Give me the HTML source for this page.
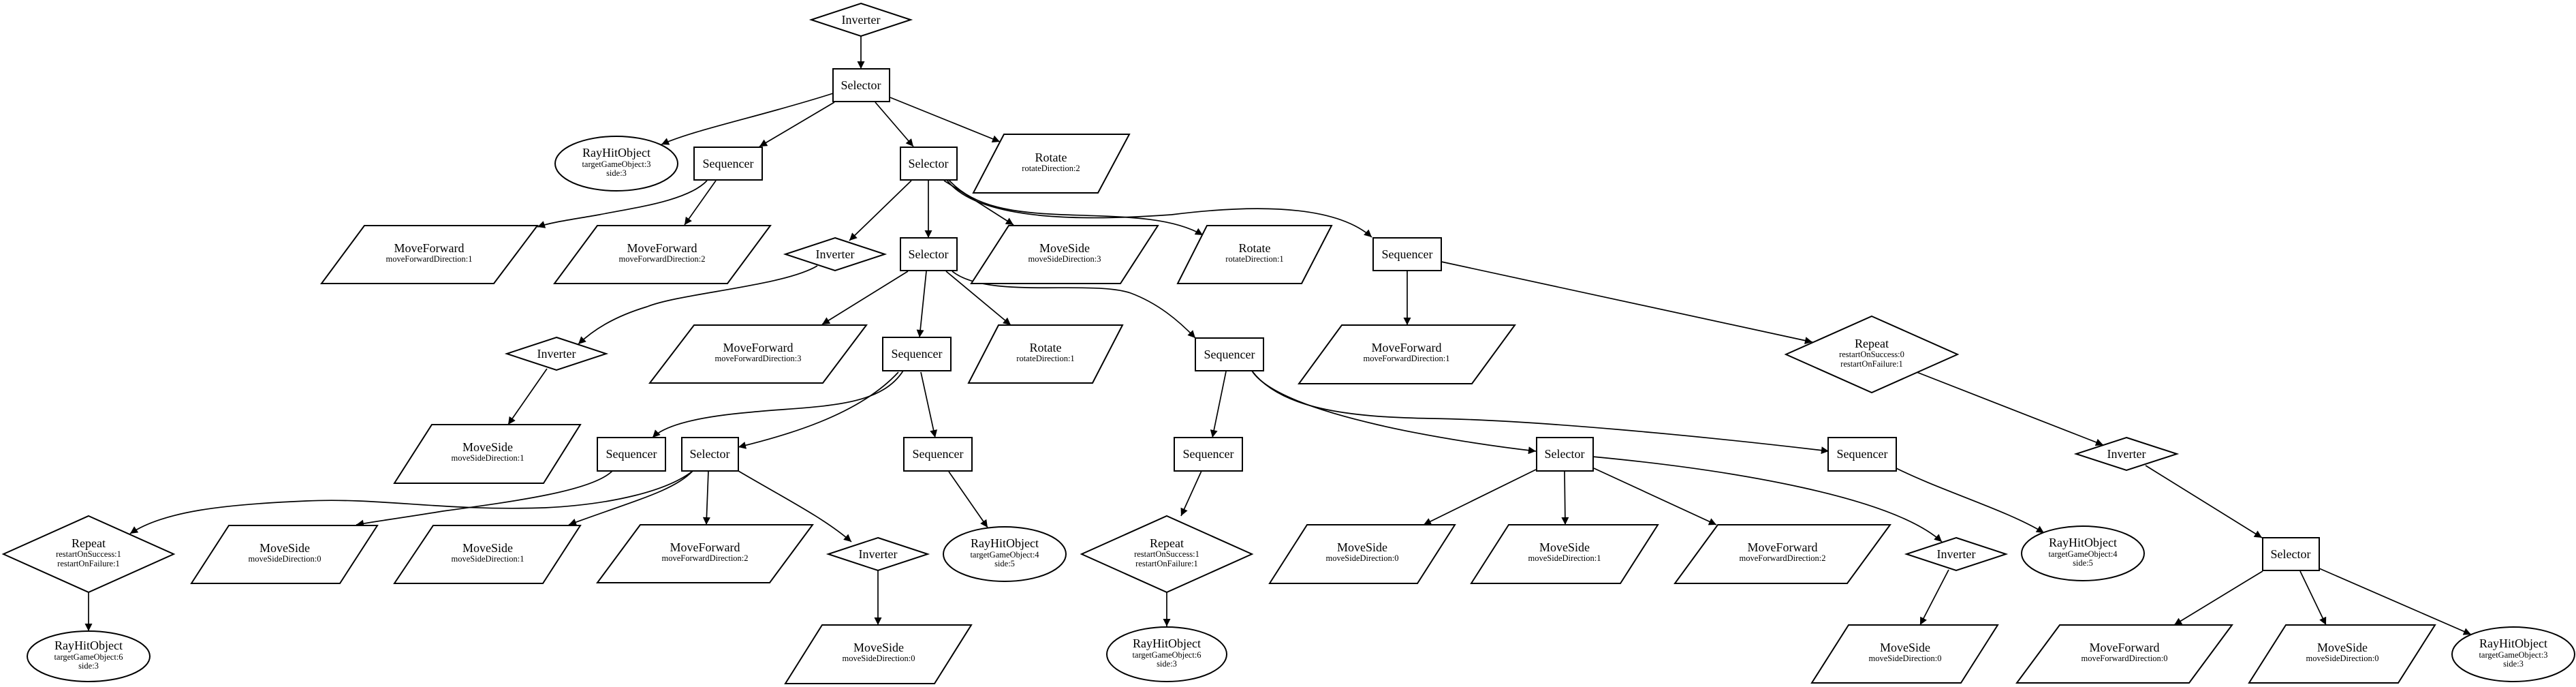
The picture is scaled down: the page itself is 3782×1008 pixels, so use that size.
<!DOCTYPE html>
<html><head><meta charset="utf-8"><style>
html,body{margin:0;padding:0;background:#fff;}
svg{display:block;}
text{font-family:"Liberation Serif",serif;fill:#000;text-anchor:middle;}
.t{font-size:18px;}
.s{font-size:12.5px;}
.n{fill:#fff;stroke:#000;stroke-width:2;}
.e{fill:none;stroke:#000;stroke-width:1.7;}
</style></head><body>
<svg width="3782" height="1008" viewBox="0 0 3782 1008" xmlns="http://www.w3.org/2000/svg">
<defs><marker id="a" viewBox="0 0 10 10" refX="10" refY="5" markerWidth="16" markerHeight="11" markerUnits="userSpaceOnUse" orient="auto"><path d="M0,0 L10,5 L0,10 z" fill="#000"/></marker></defs>
<rect width="3782" height="1008" fill="#fff"/>
<g marker-end="url(#a)">
<path class="e" marker-end="url(#a)" d="M1264,53 L1264,101"/>
<path class="e" marker-end="url(#a)" d="M1223,137 C1120,170 1020,190 971,212"/>
<path class="e" marker-end="url(#a)" d="M1225,150 L1115,215"/>
<path class="e" marker-end="url(#a)" d="M1285,150 L1341,215"/>
<path class="e" marker-end="url(#a)" d="M1307,143 L1468,208"/>
<path class="e" marker-end="url(#a)" d="M1038,265 C1010,295 930,305 880,315 C840,322 810,326 789,333"/>
<path class="e" marker-end="url(#a)" d="M1051,265 L1005,330"/>
<path class="e" marker-end="url(#a)" d="M1338,265 L1247,353"/>
<path class="e" marker-end="url(#a)" d="M1363,264 L1363,349"/>
<path class="e" marker-end="url(#a)" d="M1386,265 L1488,330"/>
<path class="e" marker-end="url(#a)" d="M1393,264 C1430,305 1490,312 1560,315 C1650,318 1720,318 1766,345"/>
<path class="e" marker-end="url(#a)" d="M1390,264 C1440,330 1620,322 1720,315 C1840,300 1960,300 2014,348"/>
<path class="e" marker-end="url(#a)" d="M1200,390 C1150,420 1000,430 950,450 C900,465 870,485 849,505"/>
<path class="e" marker-end="url(#a)" d="M1333,398 L1207,476"/>
<path class="e" marker-end="url(#a)" d="M1360,398 L1350,495"/>
<path class="e" marker-end="url(#a)" d="M1389,398 L1484,477"/>
<path class="e" marker-end="url(#a)" d="M1398,398 C1450,440 1600,410 1660,430 C1700,445 1730,470 1755,496"/>
<path class="e" marker-end="url(#a)" d="M2066,397 L2066,477"/>
<path class="e" marker-end="url(#a)" d="M2116,384 L2661,502"/>
<path class="e" marker-end="url(#a)" d="M803,541 L746,623"/>
<path class="e" marker-end="url(#a)" d="M1326,544 C1290,600 1200,595 1100,605 C1020,612 975,625 958,642"/>
<path class="e" marker-end="url(#a)" d="M1319,546 C1260,610 1150,640 1084,656"/>
<path class="e" marker-end="url(#a)" d="M1352,546 L1373,642"/>
<path class="e" marker-end="url(#a)" d="M1393,692 L1450,774"/>
<path class="e" marker-end="url(#a)" d="M1800,545 L1780,642"/>
<path class="e" marker-end="url(#a)" d="M1838,544 C1880,610 2150,650 2255,662"/>
<path class="e" marker-end="url(#a)" d="M1838,544 C1880,600 1980,612 2100,614 C2250,616 2500,640 2685,662"/>
<path class="e" marker-end="url(#a)" d="M1764,691 L1734,757"/>
<path class="e" marker-end="url(#a)" d="M1713,869 L1713,919"/>
<path class="e" marker-end="url(#a)" d="M2255,689 L2090,770"/>
<path class="e" marker-end="url(#a)" d="M2297,691 L2298,770"/>
<path class="e" marker-end="url(#a)" d="M2340,687 L2520,770"/>
<path class="e" marker-end="url(#a)" d="M2338,670 C2550,690 2780,730 2851,795"/>
<path class="e" marker-end="url(#a)" d="M2861,836 L2819,917"/>
<path class="e" marker-end="url(#a)" d="M2784,687 C2850,720 2950,750 3001,782"/>
<path class="e" marker-end="url(#a)" d="M2814,546 L3088,653"/>
<path class="e" marker-end="url(#a)" d="M3150,683 L3321,789"/>
<path class="e" marker-end="url(#a)" d="M3322,838 L3192,917"/>
<path class="e" marker-end="url(#a)" d="M3377,838 L3415,917"/>
<path class="e" marker-end="url(#a)" d="M3405,834 L3628,931"/>
<path class="e" marker-end="url(#a)" d="M1017,691 C980,720 900,740 800,745 C650,750 560,730 450,735 C330,740 240,750 191,783"/>
<path class="e" marker-end="url(#a)" d="M899,691 C870,720 760,735 650,750 C590,760 550,765 523,770"/>
<path class="e" marker-end="url(#a)" d="M1017,691 C990,720 930,735 835,770"/>
<path class="e" marker-end="url(#a)" d="M1040,691 L1037,770"/>
<path class="e" marker-end="url(#a)" d="M1084,691 C1150,730 1210,760 1250,795"/>
<path class="e" marker-end="url(#a)" d="M1289,837 L1289,917"/>
<path class="e" marker-end="url(#a)" d="M130,869 L130,926"/>
</g>

<!-- boxes -->
<rect class="n" x="1223" y="101" width="83" height="48"/><text class="t" x="1264" y="131">Selector</text>
<rect class="n" x="1019" y="216" width="100" height="48"/><text class="t" x="1069" y="246">Sequencer</text>
<rect class="n" x="1322" y="216" width="83" height="48"/><text class="t" x="1363" y="246">Selector</text>
<rect class="n" x="1322" y="349" width="83" height="48"/><text class="t" x="1363" y="379">Selector</text>
<rect class="n" x="2016" y="349" width="100" height="48"/><text class="t" x="2066" y="379">Sequencer</text>
<rect class="n" x="1296" y="495" width="100" height="49"/><text class="t" x="1346" y="525">Sequencer</text>
<rect class="n" x="1755" y="496" width="100" height="48"/><text class="t" x="1805" y="526">Sequencer</text>
<rect class="n" x="877" y="642" width="100" height="49"/><text class="t" x="927" y="672">Sequencer</text>
<rect class="n" x="1001" y="642" width="83" height="49"/><text class="t" x="1042" y="672">Selector</text>
<rect class="n" x="1327" y="642" width="100" height="49"/><text class="t" x="1377" y="672">Sequencer</text>
<rect class="n" x="1724" y="642" width="100" height="49"/><text class="t" x="1774" y="672">Sequencer</text>
<rect class="n" x="2256" y="642" width="83" height="49"/><text class="t" x="2297" y="672">Selector</text>
<rect class="n" x="2684" y="642" width="100" height="49"/><text class="t" x="2734" y="672">Sequencer</text>
<rect class="n" x="3322" y="789" width="83" height="48"/><text class="t" x="3363" y="819">Selector</text>

<!-- diamonds -->
<polygon class="n" points="1264,5 1337,29 1264,53 1191,29"/><text class="t" x="1264" y="35">Inverter</text>
<polygon class="n" points="1226,349 1299,373 1226,397 1153,373"/><text class="t" x="1226" y="379">Inverter</text>
<polygon class="n" points="817,495 890,519 817,543 744,519"/><text class="t" x="817" y="525">Inverter</text>
<polygon class="n" points="3122,642 3196,666 3122,690 3048,666"/><text class="t" x="3122" y="672">Inverter</text>
<polygon class="n" points="1289,789 1362,813 1289,837 1216,813"/><text class="t" x="1289" y="819">Inverter</text>
<polygon class="n" points="2872,789 2945,813 2872,837 2799,813"/><text class="t" x="2872" y="819">Inverter</text>
<polygon class="n" points="2748,464 2874,520 2748,576 2622,520"/><text class="t" x="2748" y="510">Repeat</text><text class="s" x="2748" y="524">restartOnSuccess:0</text><text class="s" x="2748" y="538">restartOnFailure:1</text>
<polygon class="n" points="130,757 255,813 130,869 5,813"/><text class="t" x="130" y="803">Repeat</text><text class="s" x="130" y="817">restartOnSuccess:1</text><text class="s" x="130" y="831">restartOnFailure:1</text>
<polygon class="n" points="1713,757 1838,813 1713,869 1588,813"/><text class="t" x="1713" y="803">Repeat</text><text class="s" x="1713" y="817">restartOnSuccess:1</text><text class="s" x="1713" y="831">restartOnFailure:1</text>

<!-- ellipses -->
<ellipse class="n" cx="905" cy="240" rx="90" ry="40"/><text class="t" x="905" y="230">RayHitObject</text><text class="s" x="905" y="245">targetGameObject:3</text><text class="s" x="905" y="258">side:3</text>
<ellipse class="n" cx="1475" cy="813" rx="90" ry="40"/><text class="t" x="1475" y="803">RayHitObject</text><text class="s" x="1475" y="818">targetGameObject:4</text><text class="s" x="1475" y="831">side:5</text>
<ellipse class="n" cx="3058" cy="812" rx="90" ry="40"/><text class="t" x="3058" y="802">RayHitObject</text><text class="s" x="3058" y="817">targetGameObject:4</text><text class="s" x="3058" y="830">side:5</text>
<ellipse class="n" cx="130" cy="963" rx="90" ry="37"/><text class="t" x="130" y="953">RayHitObject</text><text class="s" x="130" y="968">targetGameObject:6</text><text class="s" x="130" y="981">side:3</text>
<ellipse class="n" cx="1713" cy="960" rx="88" ry="40"/><text class="t" x="1713" y="950">RayHitObject</text><text class="s" x="1713" y="965">targetGameObject:6</text><text class="s" x="1713" y="978">side:3</text>
<ellipse class="n" cx="3690" cy="960" rx="90" ry="40"/><text class="t" x="3690" y="950">RayHitObject</text><text class="s" x="3690" y="965">targetGameObject:3</text><text class="s" x="3690" y="978">side:3</text>

<!-- parallelograms -->
<polygon class="n" points="1474,197 1658,197 1612,283 1429,283"/><text class="t" x="1543" y="237">Rotate</text><text class="s" x="1543" y="251">rotateDirection:2</text>
<polygon class="n" points="535,331 789,331 725,416 472,416"/><text class="t" x="630" y="370">MoveForward</text><text class="s" x="630" y="384">moveForwardDirection:1</text>
<polygon class="n" points="877,331 1131,331 1068,416 814,416"/><text class="t" x="972" y="370">MoveForward</text><text class="s" x="972" y="384">moveForwardDirection:2</text>
<polygon class="n" points="1481,331 1700,331 1645,416 1426,416"/><text class="t" x="1563" y="370">MoveSide</text><text class="s" x="1563" y="384">moveSideDirection:3</text>
<polygon class="n" points="1772,331 1955,331 1911,416 1729,416"/><text class="t" x="1842" y="370">Rotate</text><text class="s" x="1842" y="384">rotateDirection:1</text>
<polygon class="n" points="1019,477 1272,477 1208,562 954,562"/><text class="t" x="1113" y="516">MoveForward</text><text class="s" x="1113" y="530">moveForwardDirection:3</text>
<polygon class="n" points="1466,477 1648,477 1604,562 1422,562"/><text class="t" x="1535" y="516">Rotate</text><text class="s" x="1535" y="530">rotateDirection:1</text>
<polygon class="n" points="1970,477 2224,477 2161,563 1907,563"/><text class="t" x="2065" y="516">MoveForward</text><text class="s" x="2065" y="530">moveForwardDirection:1</text>
<polygon class="n" points="634,623 852,623 798,709 579,709"/><text class="t" x="716" y="662">MoveSide</text><text class="s" x="716" y="676">moveSideDirection:1</text>
<polygon class="n" points="336,771 554,771 499,856 281,856"/><text class="t" x="418" y="810">MoveSide</text><text class="s" x="418" y="824">moveSideDirection:0</text>
<polygon class="n" points="636,771 852,771 797,856 579,856"/><text class="t" x="716" y="810">MoveSide</text><text class="s" x="716" y="824">moveSideDirection:1</text>
<polygon class="n" points="940,770 1193,770 1130,855 877,855"/><text class="t" x="1035" y="809">MoveForward</text><text class="s" x="1035" y="823">moveForwardDirection:2</text>
<polygon class="n" points="1919,770 2136,770 2081,856 1864,856"/><text class="t" x="2000" y="809">MoveSide</text><text class="s" x="2000" y="823">moveSideDirection:0</text>
<polygon class="n" points="2215,770 2434,770 2379,856 2160,856"/><text class="t" x="2297" y="809">MoveSide</text><text class="s" x="2297" y="823">moveSideDirection:1</text>
<polygon class="n" points="2522,770 2775,770 2712,856 2459,856"/><text class="t" x="2617" y="809">MoveForward</text><text class="s" x="2617" y="823">moveForwardDirection:2</text>
<polygon class="n" points="1207,917 1426,917 1372,1003 1153,1003"/><text class="t" x="1290" y="956">MoveSide</text><text class="s" x="1290" y="970">moveSideDirection:0</text>
<polygon class="n" points="2714,917 2933,917 2879,1002 2660,1002"/><text class="t" x="2797" y="956">MoveSide</text><text class="s" x="2797" y="970">moveSideDirection:0</text>
<polygon class="n" points="3024,917 3277,917 3214,1002 2961,1002"/><text class="t" x="3119" y="956">MoveForward</text><text class="s" x="3119" y="970">moveForwardDirection:0</text>
<polygon class="n" points="3356,917 3575,917 3521,1002 3302,1002"/><text class="t" x="3439" y="956">MoveSide</text><text class="s" x="3439" y="970">moveSideDirection:0</text>
</svg>
</body></html>
